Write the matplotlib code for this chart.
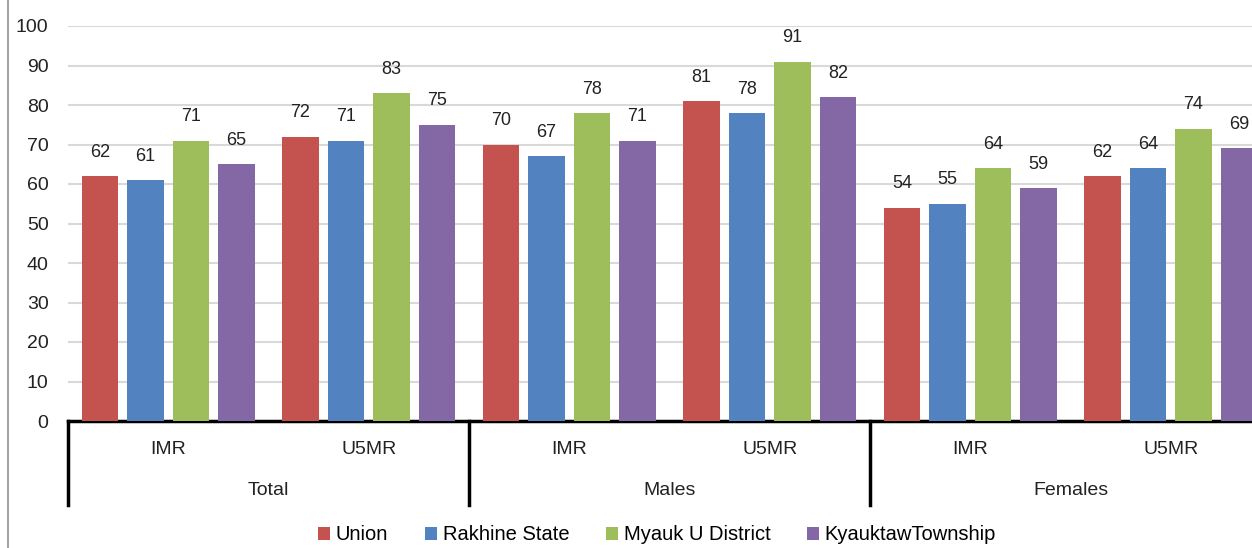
import matplotlib.pyplot as plt
from matplotlib.patches import Patch
from matplotlib.lines import Line2D
import numpy as np

plt.rcParams['font.family'] = ['Liberation Sans Narrow', 'Liberation Sans', 'DejaVu Sans']

groups = ['Total', 'Males', 'Females']
subgroups = ['IMR', 'U5MR']
series = ['Union', 'Rakhine State', 'Myauk U District', 'KyauktawTownship']
colors = ['#C4524E', '#5283C0', '#9DBE5B', '#8468A6']

union = [62, 72, 70, 81, 54, 62]
rakhine = [61, 71, 67, 78, 55, 64]
myauk = [71, 83, 78, 91, 64, 74]
kyauktaw = [65, 75, 71, 82, 59, 69]
values = [union, rakhine, myauk, kyauktaw]

fig = plt.figure(figsize=(12.52, 5.48), dpi=100)
ax = fig.add_axes([68 / 1252, 127 / 548, 1203 / 1252, 395 / 548])

x = np.arange(len(union))
pitch = 0.227
width = 0.18
for i, (vals, col, name) in enumerate(zip(values, colors, series)):
    pos = x + (i - 1.5) * pitch
    ax.bar(pos, vals, width, color=col, label=name, zorder=3)
    for px, v in zip(pos, vals):
        ax.annotate(str(v), (px, v), xytext=(0, 11), textcoords='offset points',
                    ha='center', va='bottom', fontsize=13, color='#222222')

ax.set_xlim(-0.5, len(union) - 0.5)
ax.set_ylim(0, 100)
ax.set_yticks(range(0, 101, 10))
ax.tick_params(axis='y', length=0, pad=14, labelsize=14, colors='#222222')
ax.set_xticks([])
ax.grid(axis='y', color='#D9D9D9', linewidth=1.5, zorder=0)
for s in ['top', 'right', 'left']:
    ax.spines[s].set_visible(False)
ax.spines['bottom'].set_linewidth(2.5)
ax.spines['bottom'].set_color('black')

# two-level category axis
trans = ax.get_xaxis_transform()
for k in range(len(groups) + 1):
    ax.add_line(Line2D([2 * k - 0.5] * 2, [0, -0.213], transform=trans,
                       color='black', linewidth=2.5, clip_on=False))
for j in range(len(union)):
    ax.text(j, -0.071, subgroups[j % 2], transform=trans, ha='center', va='center',
            fontsize=14, color='#222222')
for g, name in enumerate(groups):
    ax.text(2 * g + 0.5, -0.177, name, transform=trans, ha='center', va='center',
            fontsize=14, color='#222222')

handles = [Patch(facecolor=c, label=n) for c, n in zip(colors, series)]
fig.legend(handles=handles, loc='center', bbox_to_anchor=(657 / 1252, 13 / 548),
           ncol=4, frameon=False, fontsize=14.5, handlelength=0.6, handleheight=0.6,
           handletextpad=0.3, columnspacing=1.8)

fig.add_artist(Line2D([8 / 1252] * 2, [0, 1], transform=fig.transFigure,
                      color='#A6A6A6', linewidth=1.5))

fig.savefig('out.png', dpi=100)
